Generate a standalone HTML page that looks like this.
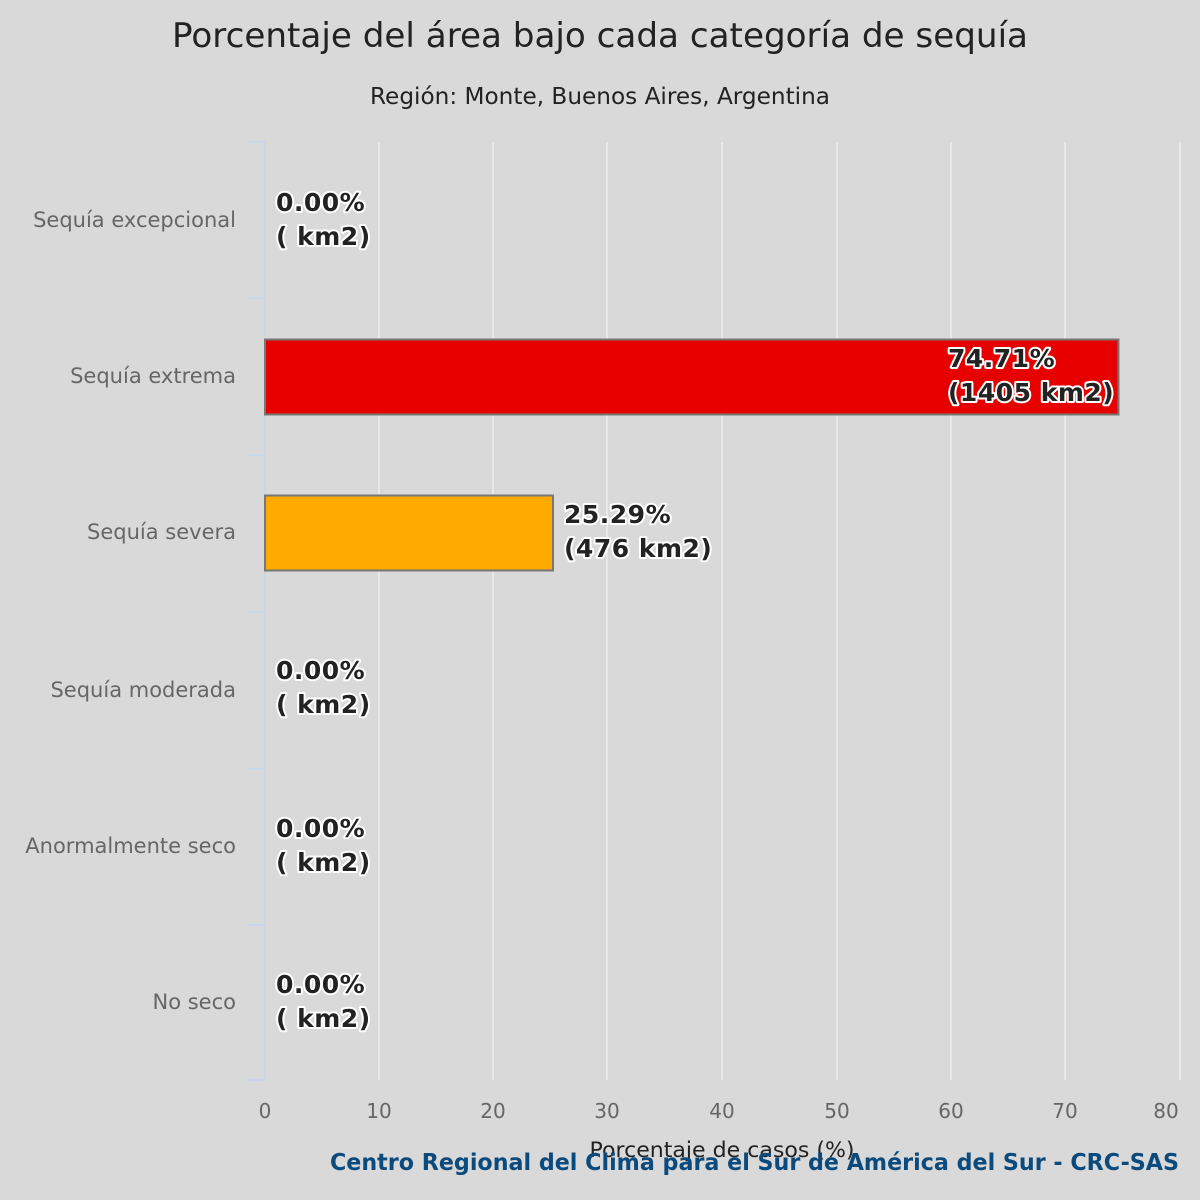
<!DOCTYPE html>
<html><head><meta charset="utf-8"><style>
html,body{margin:0;padding:0;background:#d9d9d9;}
svg{display:block;font-family:"DejaVu Sans","Liberation Sans",sans-serif;}
.lbl{font-size:25px;letter-spacing:0.5px;font-weight:bold;fill:#222;stroke:#fff;stroke-width:4px;paint-order:stroke;stroke-linejoin:round;}
.cat{font-size:21px;fill:#666;text-anchor:end;}
.xt{font-size:20px;fill:#666;text-anchor:middle;}
</style></head><body>
<svg width="1200" height="1200" viewBox="0 0 1200 1200">
<rect width="1200" height="1200" fill="#d9d9d9"/>
<text x="600" y="47" font-size="34" fill="#222" text-anchor="middle" textLength="856" lengthAdjust="spacingAndGlyphs">Porcentaje del área bajo cada categoría de sequía</text>
<text x="600" y="104" font-size="23" fill="#222" text-anchor="middle" textLength="460" lengthAdjust="spacingAndGlyphs">Región: Monte, Buenos Aires, Argentina</text>
<g stroke="#e9e9e9" stroke-width="2">
<line x1="379" y1="142" x2="379" y2="1080"/><line x1="493" y1="142" x2="493" y2="1080"/>
<line x1="607" y1="142" x2="607" y2="1080"/><line x1="722" y1="142" x2="722" y2="1080"/>
<line x1="837" y1="142" x2="837" y2="1080"/><line x1="951" y1="142" x2="951" y2="1080"/>
<line x1="1065" y1="142" x2="1065" y2="1080"/><line x1="1180" y1="142" x2="1180" y2="1080"/>
</g>
<g stroke="#ccd6eb" stroke-width="2">
<line x1="265" y1="142" x2="265" y2="1080"/>
<line x1="248" y1="142" x2="265" y2="142"/><line x1="248" y1="298" x2="265" y2="298"/>
<line x1="248" y1="455" x2="265" y2="455"/><line x1="248" y1="612" x2="265" y2="612"/>
<line x1="248" y1="769" x2="265" y2="769"/><line x1="248" y1="925" x2="265" y2="925"/>
<line x1="248" y1="1080" x2="265" y2="1080"/>
</g>
<rect x="265" y="339.5" width="853.5" height="75" fill="#e60000" stroke="#777" stroke-width="2"/>
<rect x="265" y="495.5" width="288" height="75" fill="#ffaa00" stroke="#777" stroke-width="2"/>
<g>
<text class="cat" x="236" y="227">Sequía excepcional</text>
<text class="cat" x="236" y="383">Sequía extrema</text>
<text class="cat" x="236" y="539">Sequía severa</text>
<text class="cat" x="236" y="697">Sequía moderada</text>
<text class="cat" x="236" y="853">Anormalmente seco</text>
<text class="cat" x="236" y="1009">No seco</text>
</g>
<g>
<text class="lbl" x="276" y="211">0.00%</text><text class="lbl" x="276" y="245">( km2)</text>
<text class="lbl" x="948" y="367">74.71%</text><text class="lbl" x="948" y="401">(1405 km2)</text>
<text class="lbl" x="564" y="523">25.29%</text><text class="lbl" x="564" y="557">(476 km2)</text>
<text class="lbl" x="276" y="679">0.00%</text><text class="lbl" x="276" y="713">( km2)</text>
<text class="lbl" x="276" y="837">0.00%</text><text class="lbl" x="276" y="871">( km2)</text>
<text class="lbl" x="276" y="993">0.00%</text><text class="lbl" x="276" y="1027">( km2)</text>
</g>
<g>
<text class="xt" x="265" y="1118">0</text><text class="xt" x="379" y="1118">10</text>
<text class="xt" x="493" y="1118">20</text><text class="xt" x="607" y="1118">30</text>
<text class="xt" x="722" y="1118">40</text><text class="xt" x="837" y="1118">50</text>
<text class="xt" x="951" y="1118">60</text><text class="xt" x="1065" y="1118">70</text>
<text class="xt" x="1166" y="1118">80</text>
</g>
<text x="722" y="1157" font-size="21" fill="#222" text-anchor="middle" textLength="265" lengthAdjust="spacingAndGlyphs">Porcentaje de casos (%)</text>
<text x="1179" y="1170" font-size="23" font-weight="bold" fill="#0b4a7d" text-anchor="end" textLength="849" lengthAdjust="spacingAndGlyphs">Centro Regional del Clima para el Sur de América del Sur - CRC-SAS</text>
</svg>
</body></html>
